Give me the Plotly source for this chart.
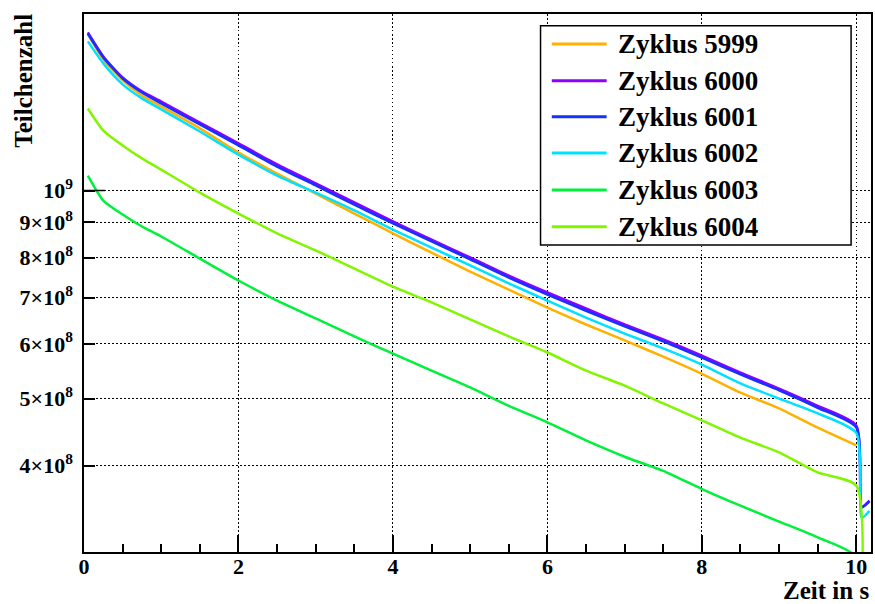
import plotly.graph_objects as go

# ---------------- data (values in units of 1e8 particles) ----------------
zeit = [0.05, 0.25, 0.5, 0.75, 1.0, 1.5, 2.0, 2.5, 3.0, 3.5, 4.0, 4.5,
        5.0, 5.5, 6.0, 6.5, 7.0, 7.5, 8.0, 8.5, 9.0, 9.5, 10.0]

z5999 = [16.82, 15.47, 14.43, 13.72, 13.23, 12.30, 11.35, 10.58, 9.90, 9.26, 8.67, 8.13,
         7.63, 7.19, 6.77, 6.40, 6.07, 5.75, 5.43, 5.10, 4.84, 4.54, 4.28]
z6000 = [16.93, 15.63, 14.57, 13.91, 13.45, 12.54, 11.70, 10.91, 10.24, 9.61, 9.02, 8.49,
         8.00, 7.53, 7.12, 6.75, 6.40, 6.09, 5.77, 5.45, 5.17, 4.88, 4.57]
z6001 = [16.87, 15.58, 14.52, 13.86, 13.36, 12.46, 11.62, 10.83, 10.17, 9.54, 8.96, 8.44,
         7.95, 7.48, 7.07, 6.70, 6.36, 6.05, 5.73, 5.42, 5.14, 4.85, 4.54]
z6002 = [16.43, 15.27, 14.24, 13.59, 13.10, 12.17, 11.27, 10.51, 9.93, 9.36, 8.78, 8.27,
         7.79, 7.34, 6.93, 6.55, 6.21, 5.91, 5.60, 5.26, 5.00, 4.76, 4.46]
z6003 = [10.51, 9.67, 9.23, 8.87, 8.58, 7.97, 7.41, 6.93, 6.53, 6.15, 5.81, 5.49,
         5.19, 4.88, 4.62, 4.35, 4.12, 3.93, 3.70, 3.50, 3.32, 3.15, 2.95]
z6004 = [13.14, 12.21, 11.62, 11.13, 10.72, 9.93, 9.26, 8.67, 8.19, 7.71, 7.26, 6.89,
         6.51, 6.15, 5.83, 5.49, 5.22, 4.92, 4.65, 4.39, 4.18, 3.91, 3.74]

# end of cycle (after t = 10 s)
ende_zeit = {"5999": [], "6000": [10.07, 10.17], "6001": [10.07, 10.17],
             "6002": [10.07, 10.17], "6003": [10.03], "6004": [10.03]}
ende_werte = {"5999": [], "6000": [3.49, 3.56], "6001": [3.48, 3.55],
              "6002": [3.36, 3.44], "6003": [2.0], "6004": [2.0]}

namen = ["Zyklus 5999", "Zyklus 6000", "Zyklus 6001", "Zyklus 6002", "Zyklus 6003", "Zyklus 6004"]
reihen = [z5999, z6000, z6001, z6002, z6003, z6004]
farben = ["#FFB000", "#8C00FF", "#1432FF", "#00E1FF", "#00F03C", "#82F500"]

y_tickvals = [4e8, 5e8, 6e8, 7e8, 8e8, 9e8, 1e9]
y_ticktext = ["<b>4×10<sup>8</sup></b>", "<b>5×10<sup>8</sup></b>", "<b>6×10<sup>8</sup></b>",
              "<b>7×10<sup>8</sup></b>", "<b>8×10<sup>8</sup></b>", "<b>9×10<sup>8</sup></b>",
              "<b>10<sup>9</sup></b>"]
x_tickvals = [0, 2, 4, 6, 8, 10]
x_ticktext = ["<b>0</b>", "<b>2</b>", "<b>4</b>", "<b>6</b>", "<b>8</b>", "<b>10</b>"]

# ---------------- figure ----------------
FONT = "Liberation Serif, Times New Roman, serif"
fig = go.Figure()
for name, werte, farbe in zip(namen, reihen, farben):
    key = name.split()[-1]
    xs = zeit + ende_zeit[key]
    ys = [v * 1e8 for v in werte + ende_werte[key]]
    fig.add_trace(go.Scatter(x=xs, y=ys, mode="lines", name=name,
                             line=dict(color=farbe, width=2.5, shape="spline", smoothing=0.6),
                             showlegend=False))

fig.update_layout(
    width=875, height=604,
    margin=dict(l=84, r=2, t=14, b=52),
    paper_bgcolor="white", plot_bgcolor="white",
    font=dict(family=FONT, color="black", size=22),
)

fig.update_xaxes(
    range=[0, 10.19], showline=True, linecolor="black", linewidth=1.5, mirror=True,
    tickmode="array", tickvals=x_tickvals, ticktext=x_ticktext,
    ticks="inside", ticklen=17, tickwidth=1.5, tickcolor="black",
    tickfont=dict(family=FONT, size=22, color="black"),
    ticklabelstandoff=-6,
    showgrid=True, gridcolor="black", gridwidth=1, griddash="1.5px,2.5px",
    minor=dict(dtick=0.5, ticks="inside", ticklen=8, tickwidth=1.5, tickcolor="black", showgrid=False),
    zeroline=False,
)
fig.update_yaxes(
    type="log", range=[8.4771, 9.2553], showline=True, linecolor="black", linewidth=1.5, mirror=True,
    tickmode="array", tickvals=y_tickvals, ticktext=y_ticktext,
    ticks="inside", ticklen=11, tickwidth=1.5, tickcolor="black",
    tickfont=dict(family=FONT, size=22, color="black"),
    ticklabelstandoff=5,
    showgrid=True, gridcolor="black", gridwidth=1, griddash="1.5px,2.5px",
    zeroline=False,
)

# longer decade tick at 10^9
fig.add_shape(type="line", xref="paper", xsizemode="pixel", xanchor=0, x0=0, x1=21,
              yref="y", y0=1e9, y1=1e9, line=dict(color="black", width=1.5), layer="above")

# axis titles
fig.add_annotation(text="<b>Teilchenzahl</b>", textangle=-90, xref="paper", yref="paper",
                   x=-0.0765, y=1.004, xanchor="center", yanchor="top", showarrow=False,
                   font=dict(family=FONT, size=25, color="black"))
fig.add_annotation(text="<b>Zeit in s</b>", xref="paper", yref="paper",
                   x=1.0, y=-0.072, xanchor="right", yanchor="middle", showarrow=False,
                   font=dict(family=FONT, size=25, color="black"))

# legend box
fig.add_shape(type="rect", xref="paper", yref="paper", x0=0.5801, x1=0.9747, y0=0.5706, y1=0.9783,
              fillcolor="white", line=dict(color="black", width=1.5), layer="above")
leg_y = [0.9442, 0.8760, 0.8091, 0.7416, 0.6729, 0.6046]
for name, farbe, yy in zip(namen, farben, leg_y):
    fig.add_shape(type="line", xref="paper", yref="paper", x0=0.5944, x1=0.6641, y0=yy, y1=yy,
                  line=dict(color=farbe, width=3), layer="above")
    fig.add_annotation(text="<b>" + name + "</b>", xref="paper", yref="paper", x=0.6755, y=yy,
                       xanchor="left", yanchor="middle", showarrow=False,
                       font=dict(family=FONT, size=27, color="black"))

fig.write_html("out.html", config={"displayModeBar": False},
               post_script="document.body.style.margin='0';document.body.style.overflow='hidden';")
